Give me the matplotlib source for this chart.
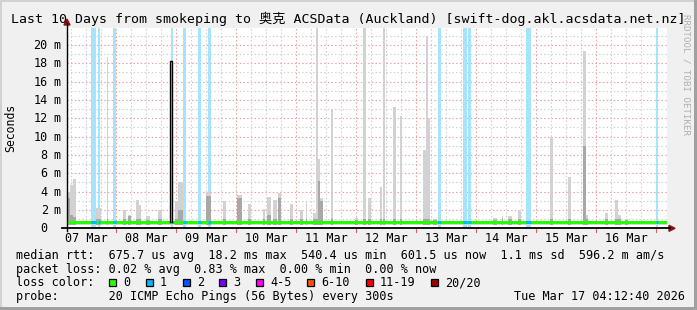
import matplotlib
matplotlib.use("Agg")
import matplotlib.pyplot as plt
import matplotlib.dates as mdates
from matplotlib.patches import Rectangle, Polygon
from matplotlib.lines import Line2D
import numpy as np
import pandas as pd

plt.rcParams['font.family'] = ['DejaVu Sans Mono', 'Noto Sans CJK SC']

# ---------------- data ----------------
title_text = "Last 10 Days from smokeping to 奥克 ACSData (Auckland) [swift-dog.akl.acsdata.net.nz]"
window_start = "2026-03-07 04:12:40"
window_end = "2026-03-17 04:12:40"

ytick_values = [0, 2, 4, 6, 8, 10, 12, 14, 16, 18, 20]
ytick_numbers = ["0", "2", "4", "6", "8", "10", "12", "14", "16", "18", "20"]
ytick_units = ["", "m", "m", "m", "m", "m", "m", "m", "m", "m", "m"]
xtick_days = ["2026-03-07", "2026-03-08", "2026-03-09", "2026-03-10", "2026-03-11",
              "2026-03-12", "2026-03-13", "2026-03-14", "2026-03-15", "2026-03-16"]

# smoke spikes: start (hours after window start), duration (h), top (ms), darker core top (ms)
smoke_start_h = [0.2, 1.2, 2.4, 11.6, 15.9, 22.3, 24.3, 27.6, 28.7, 31.6,
                 36.5, 43.2, 44.4, 55.5, 62.3, 67.9, 72.4, 78.3, 80.0, 82.5,
                 84.4, 89.2, 93.2, 95.5, 98.5, 99.7, 100.5, 101.3, 105.6, 115.2,
                 118.5, 120.5, 125.2, 126.5, 130.5, 133.2, 142.3, 143.6, 144.5, 146.3,
                 170.4, 173.9, 176.5, 180.5, 193.2, 200.5, 206.3, 207.5, 215.2, 219.3,
                 220.3, 223.2]
smoke_dur_h = [1.0, 1.2, 1.2, 1.9, 0.6, 1.3, 1.2, 1.1, 0.9, 1.6,
               1.4, 1.2, 2.0, 2.1, 1.3, 2.0, 1.2, 0.9, 1.5, 1.4,
               1.2, 1.1, 1.3, 0.6, 1.2, 0.8, 0.8, 1.0, 0.8, 1.2,
               1.0, 1.1, 0.7, 0.8, 1.0, 0.8, 1.3, 0.9, 0.8, 1.8,
               1.5, 0.6, 1.4, 1.0, 1.1, 1.1, 1.2, 0.8, 1.3, 1.0,
               1.3, 1.3]
smoke_top_ms = [4.0, 4.7, 5.4, 2.25, 18.7, 2.0, 1.4, 3.1, 2.5, 1.3,
                2.0, 3.0, 5.1, 4.0, 3.0, 3.6, 2.65, 2.1, 3.4, 3.1,
                3.8, 2.6, 2.0, 3.0, 1.7, 22.5, 7.6, 3.3, 12.9, 1.1,
                22.5, 3.3, 4.5, 22.5, 13.2, 12.2, 8.5, 21.0, 12.0, 1.0,
                1.1, 1.3, 1.3, 2.0, 10.0, 5.6, 19.3, 1.4, 1.7, 3.1,
                1.4, 1.0]
smoke_core_ms = [3.3, 1.5, 1.2, 1.0, 1.0, 1.0, 1.3, 1.0, 1.0, 0.9,
                 1.0, 1.0, 2.0, 3.5, 1.0, 3.3, 1.0, 1.0, 1.5, 1.0,
                 3.3, 1.0, 1.0, 1.0, 1.0, 1.0, 5.2, 3.0, 1.0, 0.9,
                 1.0, 1.0, 1.0, 1.0, 1.0, 1.0, 1.0, 1.0, 1.0, 0.9,
                 0.9, 1.0, 1.0, 1.0, 1.0, 1.0, 9.0, 1.0, 1.0, 1.0,
                 1.0, 0.9]
smoke_floor_ms = 0.40
smoke_band_top_ms = 0.85

# periods with packet loss (1 of 20): start (h after window start), duration (h)
loss_start_h = [9.6, 12.5, 18.5, 41.6, 46.5, 52.5, 56.5, 148.3, 158.5, 160.4, 183.6, 235.5]
loss_dur_h = [1.9, 0.8, 1.0, 0.8, 1.0, 1.0, 1.0, 1.2, 1.4, 1.2, 2.0, 0.8]

median_ms = 0.64
median_spike_start_h = 41.2
median_spike_dur_h = 0.9
median_spike_ms = 18.2

legend_rows = [
    "median rtt:  675.7 us avg  18.2 ms max  540.4 us min  601.5 us now  1.1 ms sd  596.2 m am/s",
    "packet loss: 0.02 % avg  0.83 % max  0.00 % min  0.00 % now",
    "loss color:",
    "probe:       20 ICMP Echo Pings (56 Bytes) every 300s",
]
loss_labels = ["0", "1", "2", "3", "4-5", "6-10", "11-19", "20/20"]
loss_colors = ["#26ff00", "#00b8ff", "#0059ff", "#7e00ff", "#ff00ff", "#ff5500", "#ff0000", "#a00000"]
timestamp_text = "Tue Mar 17 04:12:40 2026"

# ---------------- layout ----------------
W, H = 697, 310
fig = plt.figure(figsize=(W / 100, H / 100), dpi=100)
fig.patch.set_facecolor('#f0f0f0')

def fx(x):
    return x / W

def fy(y):
    return 1 - y / H

PL, PR, PB, PT = 67, 667, 228.3, 28.0
YMAX = 21.85
ax = fig.add_axes([fx(PL), fy(PB), (PR - PL) / W, (PB - PT) / H])
ax.set_facecolor('white')
for s in ax.spines.values():
    s.set_visible(False)
ax.set_xticks([])
ax.set_yticks([])

t0 = pd.Timestamp(window_start).to_pydatetime()
t1 = pd.Timestamp(window_end).to_pydatetime()
x0 = mdates.date2num(t0)
x1 = mdates.date2num(t1)
ax.set_xlim(x0, x1)
ax.set_ylim(0, YMAX)

# grid
minor_c = '#d0d0d0'
major_c = '#e8a0a0'
dash = (0, (1.3, 2.0))
for v in np.arange(1, 22, 1):
    col = major_c if v % 2 == 0 else minor_c
    ax.axhline(v, color=col, lw=0.8, ls=dash, zorder=1)
day0 = pd.Timestamp("2026-03-07")
for k in range(0, 41):
    t = mdates.date2num((day0 + pd.Timedelta(hours=6 * k)).to_pydatetime())
    if x0 < t < x1:
        major = (k % 4 == 0)
        ax.axvline(t, color=major_c if major else minor_c, lw=0.8, ls=dash, zorder=1)
        if major:
            ax.plot([t, t], [-0.018, 0], color='#e06060', lw=0.8,
                    transform=ax.get_xaxis_transform(), clip_on=False, zorder=6)

# loss bars
lx = x0 + np.array(loss_start_h) / 24
lw_ = np.array(loss_dur_h) / 24
ax.bar(lx, YMAX + 1, width=lw_, bottom=0, align='edge', color='#a6e4fc', lw=0, zorder=2)

# base smoke band
ax.fill_between([x0, x1], smoke_floor_ms, smoke_band_top_ms, color='#d8d8d8', lw=0, zorder=2.5)

# smoke spikes
sx = x0 + np.array(smoke_start_h) / 24
sw = np.array(smoke_dur_h) / 24
top = np.array(smoke_top_ms)
core = np.array(smoke_core_ms)
ax.bar(sx, top - smoke_floor_ms, width=sw, bottom=smoke_floor_ms, align='edge',
       color='#d2d2d2', lw=0, zorder=3)
ax.bar(sx, core - smoke_floor_ms, width=sw, bottom=smoke_floor_ms, align='edge',
       color='#a8a8a8', lw=0, zorder=3.2)

# median line
ax.hlines(median_ms, x0, x1, color='#26ff00', lw=2.2, zorder=5)
ax.hlines([median_ms] * len(lx), lx, lx + lw_, color='#00b8ff', lw=2.2, zorder=5.1)
ms0 = x0 + median_spike_start_h / 24
ms1 = ms0 + median_spike_dur_h / 24
ax.plot([ms0, ms0, ms1, ms1], [median_ms, median_spike_ms, median_spike_ms, median_ms],
        color='black', lw=1.0, zorder=5.2)

# axes lines and arrows
fig.add_artist(Line2D([fx(62), fx(670)], [fy(228.3), fy(228.3)], color='black', lw=1.3))
fig.add_artist(Line2D([fx(67), fx(67)], [fy(231), fy(23)], color='black', lw=1.0))
fig.add_artist(Polygon([[fx(669), fy(225.3)], [fx(675), fy(228.3)], [fx(669), fy(231.3)]],
                       closed=True, color='#8b1010', transform=fig.transFigure))
fig.add_artist(Polygon([[fx(64), fy(25)], [fx(67), fy(19)], [fx(70), fy(25)]],
                       closed=True, color='#8b1010', transform=fig.transFigure))

# y tick labels
FS = 8.5
for v, num, unit in zip(ytick_values, ytick_numbers, ytick_units):
    ypx = PB - v / YMAX * (PB - PT)
    fig.text(fx(47.8), fy(ypx + 4.0), num, ha='right', va='baseline', fontsize=FS)
    if unit:
        fig.text(fx(53.5), fy(ypx + 4.0), unit, ha='left', va='baseline', fontsize=FS)

# x tick labels (centered at noon)
for d in xtick_days:
    t = mdates.date2num((pd.Timestamp(d) + pd.Timedelta(hours=12)).to_pydatetime())
    xp = PL + (t - x0) / (x1 - x0) * (PR - PL)
    fig.text(fx(xp), fy(241.5), pd.Timestamp(d).strftime("%d %b"), ha='center', va='baseline', fontsize=FS)

# title
fig.text(fx(348.5), fy(22.8), title_text, ha='center', va='baseline', fontsize=9.5)

# y label
fig.text(fx(11), fy(128.3), "Seconds", rotation=90, ha='center', va='center', fontsize=8.3)

# rrdtool credit
fig.text(fx(686), fy(14), "RRDTOOL / TOBI OETIKER", rotation=270, ha='center', va='top',
         fontsize=6.6, color='#b0b0b0')

# legend
row_base = [259.0, 272.7, 286.5, 300.2]
for i, row in enumerate(legend_rows):
    fig.text(fx(16), fy(row_base[i]), row, ha='left', va='baseline', fontsize=FS)
box_x = [109, 145.7, 182.7, 219.3, 256, 307.3, 365.7, 431]
for bx, lab, c in zip(box_x, loss_labels, loss_colors):
    fig.add_artist(Rectangle((fx(bx), fy(286.2)), 7 / W, 7.5 / H, facecolor=c,
                             edgecolor='black', lw=0.9, transform=fig.transFigure))
    fig.text(fx(bx + 14), fy(row_base[2]), lab, ha='left', va='baseline', fontsize=FS)
fig.text(fx(685), fy(row_base[3]), timestamp_text, ha='right', va='baseline', fontsize=FS)

# frame
fig.add_artist(Rectangle((0, 0), fx(2), 1, color='#d2d2d2', transform=fig.transFigure, lw=0))
fig.add_artist(Rectangle((0, fy(2)), 1, 2 / H, color='#d2d2d2', transform=fig.transFigure, lw=0))
fig.add_artist(Rectangle((0, 0), 1, 3 / H, color='#a0a0a0', transform=fig.transFigure, lw=0))
fig.add_artist(Rectangle((fx(694), 0), 3 / W, 1, color='#a0a0a0', transform=fig.transFigure, lw=0))

fig.savefig("out.png", dpi=100, facecolor=fig.get_facecolor())
